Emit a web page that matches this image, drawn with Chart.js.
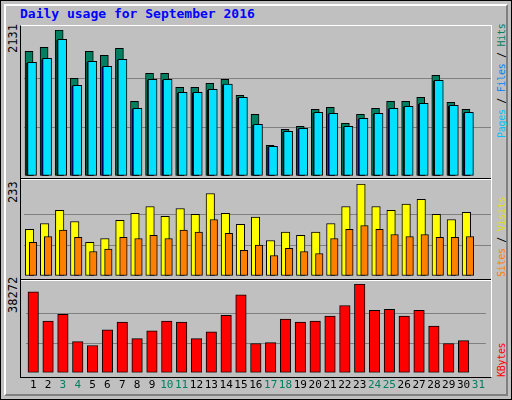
<!DOCTYPE html>
<html>
<head>
<meta charset="utf-8">
<script src="https://cdn.jsdelivr.net/npm/chart.js@4"></script>
<style>
body { margin: 0; background: #fff; }
#wrap { position: absolute; left: 0; top: 0; width: 510px; height: 398px; background: #c0c0c0; border: 1px solid #000; }
#bevel { position: absolute; left: 3px; top: 3px; width: 500px; height: 388px; border-top: 2px solid #fff; border-left: 2px solid #fff; border-right: 2px solid #808080; border-bottom: 2px solid #808080; }
#frame { position: absolute; left: 20px; top: 25px; width: 470px; height: 351px; border-top: 1px solid #fff; border-right: 1px solid #fff; border-left: 1px solid #000; border-bottom: 1px solid #000; }
.sep { position: absolute; left: 21px; width: 470px; height: 1px; background: #fff; border-top: 1px solid #000; }
canvas { position: absolute; }
.t { position: absolute; font-family: 'DejaVu Sans Mono', monospace; font-size: 12px; white-space: nowrap; }
.r { font-size: 10px; letter-spacing: -0.3px; }
.rot { transform-origin: left top; transform: rotate(-90deg); }
</style>
</head>
<body>
<div id="wrap"><div id="bevel"></div></div>
<div id="frame"></div>
<div class="sep" style="top:178px"></div>
<div class="sep" style="top:279px"></div>
<div class="t" style="left:20px;top:6px;color:#0000ff;font-weight:bold;font-size:13px">Daily usage for September 2016</div>
<div class="t rot" style="left:6px;top:53px">2131</div>
<div class="t rot" style="left:6px;top:203px">233</div>
<div class="t rot" style="left:6px;top:313px">38272</div>
<div class="t r rot" style="left:496px;top:138px"><span style="color:#00c0ff">Pages</span> / <span style="color:#0080ff">Files</span> / <span style="color:#008060">Hits</span></div>
<div class="t r rot" style="left:496px;top:277px"><span style="color:#ff8000">Sites</span> / <span style="color:#e0e000">Visits</span></div>
<div class="t r rot" style="left:496px;top:377px;color:#ff0000">KBytes</div>
<canvas id="c1" style="left:24px;top:26px" width="467" height="152"></canvas>
<canvas id="c2" style="left:24px;top:181px" width="467" height="97"></canvas>
<canvas id="c3" style="left:24px;top:281px" width="467" height="117"></canvas>
<script>
var days = ['1','2','3','4','5','6','7','8','9','10','11','12','13','14','15','16','17','18','19','20','21','22','23','24','25','26','27','28','29','30','31'];
var weekend = ['3','4','10','11','17','18','24','25','31'];
var hits = [1820, 1879, 2131, 1426, 1820, 1762, 1864, 1091, 1500, 1500, 1294, 1294, 1353, 1411, 1177, 900, 448, 681, 725, 974, 1003, 770, 900, 988, 1091, 1091, 1149, 1470, 1076, 974];
var files = [1660, 1718, 1996, 1324, 1675, 1601, 1704, 988, 1411, 1411, 1223, 1223, 1266, 1340, 1150, 755, 433, 652, 696, 930, 915, 725, 842, 915, 988, 1018, 1061, 1397, 1033, 930];
var pages = [1645, 1700, 1980, 1310, 1660, 1590, 1690, 975, 1400, 1395, 1210, 1215, 1250, 1330, 1140, 740, 425, 640, 685, 920, 905, 715, 830, 905, 975, 1005, 1050, 1385, 1020, 920];
var visits = [118, 133, 166, 138, 85, 95, 141, 159, 176, 151, 171, 156, 209, 159, 131, 149, 90, 111, 103, 111, 133, 176, 233, 176, 166, 182, 194, 156, 143, 161];
var sites = [85, 100, 116, 98, 62, 68, 98, 95, 103, 95, 116, 111, 143, 108, 65, 78, 52, 70, 62, 57, 95, 118, 128, 118, 105, 100, 105, 98, 98, 100];
var kbytes = [34910, 22292, 25236, 13460, 11778, 18507, 21871, 14721, 18086, 22292, 21871, 14721, 17666, 24815, 33648, 12618, 13039, 23134, 21871, 22292, 24394, 29021, 38272, 26918, 27339, 24394, 26918, 20189, 12618, 13880];

// shift bars sideways inside their day slot (webalizer overlap look)
var shiftPlugin = {
    id: 'shift',
    beforeDatasetDraw: function(chart, args) {
        var s = chart.options.plugins.shift.offsets[args.index] || 0;
        chart.ctx.save();
        chart.ctx.translate(s, 0);
    },
    afterDatasetDraw: function(chart) { chart.ctx.restore(); }
};

function bar(data, color, w, order) {
    return { data: data, backgroundColor: color, borderColor: '#000', borderWidth: 1, borderSkipped: false, barThickness: w, grouped: false, order: order };
}

function makeChart(id, sets, offsets, max, pad, showX) {
    return new Chart(document.getElementById(id), {
        type: 'bar',
        data: { labels: days, datasets: sets },
        plugins: [shiftPlugin],
        options: {
            responsive: false, animation: false,
            layout: { padding: pad },
            plugins: { legend: { display: false }, tooltip: { enabled: false }, shift: { offsets: offsets } },
            scales: {
                x: {
                    display: showX,
                    grid: { display: false, drawTicks: false },
                    border: { display: false },
                    ticks: {
                        padding: 6, maxRotation: 0, autoSkip: false,
                        font: { family: 'DejaVu Sans Mono', size: 11 },
                        color: function(c) { return weekend.indexOf(days[c.index]) >= 0 ? '#008060' : '#000'; }
                    }
                },
                y: {
                    min: 0, max: max,
                    afterBuildTicks: function(s) { s.ticks = [0, 1, 2, 3].map(function(i) { return { value: max * i / 3 }; }); },
                    grid: { color: function(c) { return (c.index === 1 || c.index === 2) ? '#808080' : 'rgba(0,0,0,0)'; }, lineWidth: 1, drawTicks: false },
                    border: { display: false },
                    ticks: { display: false }
                }
            }
        }
    });
}

makeChart('c1', [bar(hits, '#008060', 8, 3), bar(pages, '#0000ff', 7, 2), bar(files, '#00e0ff', 9, 1)], [-2.5, -1.5, 0.5], 2131, { top: 4, bottom: 2, left: 0, right: 0 }, false);
makeChart('c2', [bar(visits, '#ffff00', 8.5, 2), bar(sites, '#ff8000', 7.5, 1)], [-2, 1.5], 233, { top: 3, bottom: 2, left: 0, right: 0 }, false);
makeChart('c3', [bar(kbytes, '#ff0000', 10.5, 1)], [0], 38272, { top: 3, bottom: 0, left: 0, right: 0 }, true);
</script>
</body>
</html>
